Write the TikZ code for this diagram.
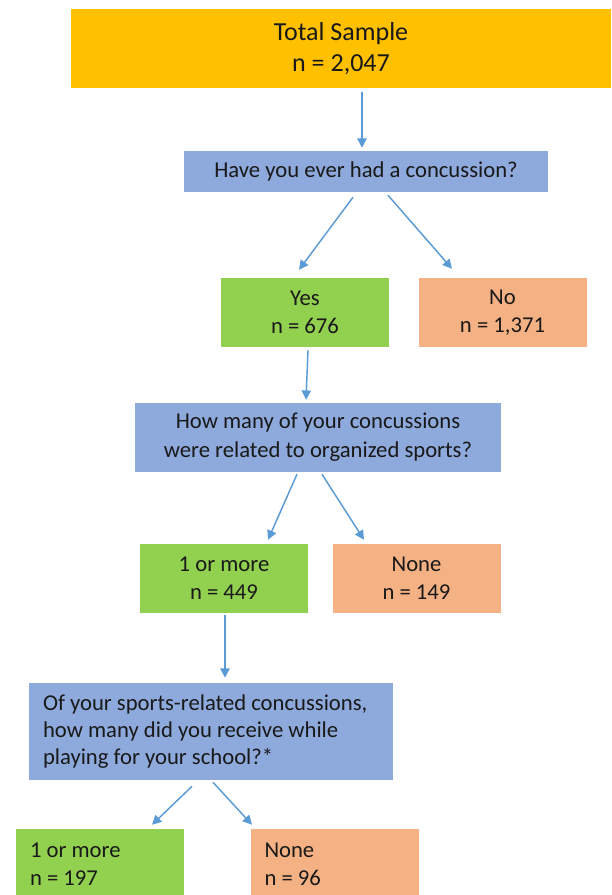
\documentclass[tikz,border=0pt]{standalone}
\usepackage{fontspec}
\setmainfont{Carlito}
\usetikzlibrary{arrows.meta,calc}
\definecolor{gold}{HTML}{FFC000}
\definecolor{qblue}{HTML}{8EA9DB}
\definecolor{ygreen}{HTML}{92D050}
\definecolor{nsalmon}{HTML}{F4B183}
\definecolor{arrblue}{HTML}{5B9BD5}
\begin{document}
\begin{tikzpicture}[x=0.75pt,y=-0.75pt,
  box/.style={inner sep=0pt, align=center, font=\fontsize{17}{21}\selectfont, text=black!90},
  qbox/.style={box, fill=qblue},
  ybox/.style={box, fill=ygreen, minimum width=126pt, minimum height=51.75pt},
  nbox/.style={box, fill=nsalmon, minimum width=126pt, minimum height=51.75pt},
  lbox/.style={text width=105pt, align=flush left, inner xsep=10.5pt, inner ysep=0pt, minimum height=53.25pt},
  arr/.style={draw=arrblue, line width=1.1pt, -{Triangle[length=7pt,width=7pt]}}]
\useasboundingbox (0,0) rectangle (611,895);
\clip (0,0) rectangle (611,895);

\node[box, fill=gold, minimum width=405pt, minimum height=59.25pt,
      font=\fontsize{19.5}{23.5}\selectfont] (total) at (341,48.5) {Total Sample\\n = 2,047};
\node[qbox, minimum width=273pt, minimum height=30.75pt] (q1) at (366,171.5) {Have you ever had a concussion?};
\node[ybox] (yes) at (305,312.5) {Yes\\n = 676};
\node[nbox] (no) at (502.5,312.5) {No\\n = 1,371};
\node[qbox, minimum width=274.5pt, minimum height=51.75pt, font=\fontsize{17}{21.75}\selectfont] (q2) at (318,437.5)
  {How many of your concussions\\were related to organized sports?};
\node[ybox] (m1) at (224,578.5) {1 or more\\n = 449};
\node[nbox] (none1) at (416.5,578.5) {None\\n = 149};
\node[qbox, text width=252pt, align=flush left, inner xsep=10.5pt, minimum height=72.75pt,
      font=\fontsize{17}{20}\selectfont] (q3) at (211,731.5)
  {Of your sports-related concussions,\\how many did you receive while\\playing for your school?*};
\node[ybox, lbox] (m2) at (100,864.5) {1 or more\\n = 197};
\node[nbox, lbox] (none2) at (334.5,864.5) {None\\n = 96};

\draw[arr] ($(total.south)+(21,4)$) -- ($(q1.north)+(-4,-3)$);
\draw[arr] ($(q1.south)+(-13,5)$) -- ($(yes.north)+(-6,-8)$);
\draw[arr] ($(q1.south)+(22,3)$) -- ($(no.north)+(-50.5,-9)$);
\draw[arr] ($(yes.south)+(3,3)$) -- ($(q2.north)+(-12,-3)$);
\draw[arr] ($(q2.south)+(-21,2)$) -- ($(m1.north)+(44,-4)$);
\draw[arr] ($(q2.south)+(4,2)$) -- ($(none1.north)+(-52.5,-4)$);
\draw[arr] ($(m1.south)+(1,2)$) -- ($(q3.north)+(14,-5)$);
\draw[arr] ($(q3.south)+(-19,6)$) -- ($(m2.north)+(52,-4)$);
\draw[arr] ($(q3.south)+(2,2)$) -- ($(none2.north)+(-82.5,-4)$);
\end{tikzpicture}
\end{document}
